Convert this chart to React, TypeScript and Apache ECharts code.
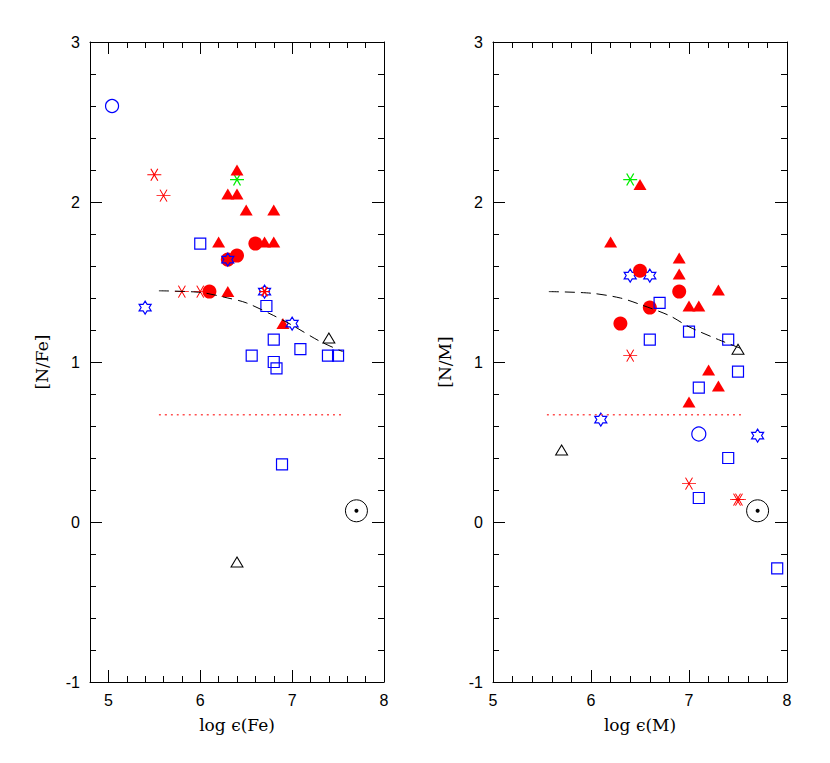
import React, { useEffect, useRef } from "react";
import * as echarts from "echarts";

// ---------- tick labels ----------
const majorXTicks = [5, 6, 7, 8];
const majorYTicks = [-1, 0, 1, 2, 3];

// ---------- left panel: [N/Fe] vs log eps(Fe) ----------
const feBlueOpenCircle = [[5.04, 2.6]];
const feRedAsterisk = [[5.5, 2.17], [5.6, 2.04], [5.8, 1.44], [6.0, 1.44]];
const feRedAsteriskTop = [[6.7, 1.44]];
const feGreenAsterisk = [[6.4, 2.14]];
const feRedTriangle = [
  [6.4, 2.2], [6.3, 2.05], [6.4, 2.05], [6.5, 1.95], [6.8, 1.95],
  [6.2, 1.75], [6.7, 1.75], [6.8, 1.75], [6.3, 1.44], [6.9, 1.24],
];
const feRedCircle = [[6.6, 1.74], [6.3, 1.64], [6.4, 1.665], [6.1, 1.44]];
const feBlueSquare = [
  [6.0, 1.74], [6.72, 1.35], [6.8, 1.14], [6.56, 1.04], [6.8, 1.0],
  [6.83, 0.96], [7.09, 1.08], [7.39, 1.04], [7.5, 1.04], [6.89, 0.36],
];
const feBlueStar = [[6.3, 1.64], [5.4, 1.34], [6.7, 1.44], [7.0, 1.24]];
const feBlackTriangle = [[7.4, 1.15], [6.4, -0.25]];
const feSun = [[7.7, 0.07]];
const feDashed = [
  [5.55, 1.445], [6.0, 1.435], [6.3, 1.4], [6.5, 1.37], [6.8, 1.29],
  [7.0, 1.23], [7.3, 1.13], [7.55, 1.065],
];
const feDotted = [[5.55, 0.67], [7.55, 0.67]];

// ---------- right panel: [N/M] vs log eps(M) ----------
const mGreenAsterisk = [[6.4, 2.14]];
const mRedTriangle = [
  [6.5, 2.11], [6.2, 1.75], [6.9, 1.65], [6.9, 1.55], [7.3, 1.45],
  [7.0, 1.35], [7.1, 1.35], [7.2, 0.95], [7.3, 0.85], [7.0, 0.75],
];
const mRedCircle = [[6.5, 1.57], [6.9, 1.44], [6.6, 1.34], [6.3, 1.24]];
const mBlueStar = [[6.4, 1.54], [6.6, 1.54], [6.1, 0.64], [7.7, 0.54]];
const mBlueSquare = [
  [6.7, 1.37], [6.6, 1.14], [7.0, 1.19], [7.4, 1.14], [7.5, 0.94],
  [7.1, 0.84], [7.4, 0.4], [7.1, 0.15], [7.9, -0.29],
];
const mBlackTriangle = [[7.5, 1.08], [5.7, 0.45]];
const mRedAsterisk = [[6.4, 1.04], [7.0, 0.24], [7.49, 0.14], [7.51, 0.14]];
const mBlueOpenCircle = [[7.1, 0.55]];
const mSun = [[7.7, 0.07]];
const mDashed = [
  [5.57, 1.44], [6.0, 1.43], [6.3, 1.4], [6.5, 1.36], [6.8, 1.29],
  [7.0, 1.22], [7.3, 1.14], [7.55, 1.08],
];
const mDotted = [[5.55, 0.67], [7.55, 0.67]];

const RED = "#ff0000";
const BLUE = "#0000ff";
const GREEN = "#00ee00";
const NONE = "rgba(0,0,0,0)";

const ASTERISK = "path://M0,0.866L2,0.866M0.5,0L1.5,1.732M0.5,1.732L1.5,0";
const STAR =
  "path://M0,-1L0.2887,-0.5L0.866,-0.5L0.577,0L0.866,0.5L0.2887,0.5L0,1L-0.2887,0.5L-0.866,0.5L-0.577,0L-0.866,-0.5L-0.2887,-0.5Z";

function minorList(min: number, max: number, majors: number[]) {
  const out: number[] = [];
  for (let i = Math.round(min * 5); i <= Math.round(max * 5); i++) {
    const v = i / 5;
    if (!majors.some((m) => Math.abs(m - v) < 1e-6)) out.push(v);
  }
  return out;
}

const labelFont = { fontFamily: "Liberation Sans", fontSize: 16, color: "#000" };
const nameFont = { fontFamily: "DejaVu Serif", fontSize: 17, color: "#000" };

function makeAxes(
  dim: "x" | "y",
  gridIndex: number,
  min: number,
  max: number,
  majors: number[],
  name: string
) {
  const minors = minorList(min, max, majors);
  const posMain = dim === "x" ? "bottom" : "left";
  const posOpp = dim === "x" ? "top" : "right";
  const base = {
    type: "value",
    gridIndex,
    min,
    max,
    splitLine: { show: false },
  };
  const line = { show: true, onZero: false, lineStyle: { color: "#000", width: 1 } };
  const noLine = { show: false, onZero: false };
  return [
    {
      ...base,
      position: posMain,
      axisLine: line,
      axisTick: { show: true, inside: true, length: 12, customValues: majors, lineStyle: { color: "#000" } },
      axisLabel: { show: true, customValues: majors, margin: 10, ...labelFont },
      name,
      nameLocation: "middle",
      nameGap: dim === "x" ? 34 : 40,
      nameTextStyle: nameFont,
    },
    {
      ...base,
      position: posMain,
      axisLine: noLine,
      axisTick: { show: true, inside: true, length: 6, customValues: minors, lineStyle: { color: "#000" } },
      axisLabel: { show: false },
    },
    {
      ...base,
      position: posOpp,
      axisLine: line,
      axisTick: { show: true, inside: true, length: 12, customValues: majors, lineStyle: { color: "#000" } },
      axisLabel: { show: false },
    },
    {
      ...base,
      position: posOpp,
      axisLine: noLine,
      axisTick: { show: true, inside: true, length: 6, customValues: minors, lineStyle: { color: "#000" } },
      axisLabel: { show: false },
    },
  ];
}

function sc(data: number[][], ax: number, symbol: string, size: any, fill: string, stroke: string, bw = 1) {
  return {
    type: "scatter",
    xAxisIndex: ax,
    yAxisIndex: ax,
    data,
    symbol,
    symbolSize: size,
    itemStyle: { color: fill, borderColor: stroke, borderWidth: bw, opacity: 1 },
    emphasis: { disabled: true },
    silent: true,
  };
}

function ln(data: number[][], ax: number, color: string, type: any, width = 1) {
  return {
    type: "line",
    xAxisIndex: ax,
    yAxisIndex: ax,
    data,
    showSymbol: false,
    symbol: "none",
    smooth: 0.3,
    lineStyle: { color, type, width },
    silent: true,
  };
}

export default function App() {
  const ref = useRef<HTMLDivElement>(null);
  useEffect(() => {
    if (!ref.current) return;
    const chart = echarts.init(ref.current, undefined, { renderer: "svg" });
    const L = 0;
    const R = 4;
    const option: any = {
      animation: false,
      backgroundColor: "#fff",
      grid: [
        { left: 90, top: 42, width: 294, height: 640 },
        { left: 493, top: 42, width: 294, height: 640 },
      ],
      xAxis: [
        ...makeAxes("x", 0, 4.8, 8, majorXTicks, "log \u03f5(Fe)"),
        ...makeAxes("x", 1, 5, 8, majorXTicks, "log \u03f5(M)"),
      ],
      yAxis: [
        ...makeAxes("y", 0, -1, 3, majorYTicks, "[N/Fe]"),
        ...makeAxes("y", 1, -1, 3, majorYTicks, "[N/M]"),
      ],
      series: [
        // left panel
        ln(feDashed, L, "#000", [10, 6], 1),
        ln(feDotted, L, "#ff5050", [2, 4], 1.5),
        sc(feBlueOpenCircle, L, "circle", 13, NONE, BLUE, 1.2),
        sc(feRedAsterisk, L, ASTERISK, [14, 12], RED, RED, 1),
        sc(feGreenAsterisk, L, ASTERISK, [14, 12], GREEN, GREEN, 1.2),
        sc(feRedTriangle, L, "triangle", [13, 11], RED, RED, 0),
        sc(feRedCircle, L, "circle", 14, RED, RED, 0),
        sc(feBlueSquare, L, "rect", 11, NONE, BLUE, 1.2),
        sc(feBlueStar, L, STAR, [12, 13], NONE, BLUE, 1.2),
        sc(feRedAsteriskTop, L, ASTERISK, [11, 9.5], RED, RED, 1.5),
        sc(feBlackTriangle, L, "triangle", [12, 10], NONE, "#000", 1),
        sc(feSun, L, "circle", 22, NONE, "#000", 1),
        sc(feSun, L, "circle", 4, "#000", "#000", 0),
        // right panel
        ln(mDashed, R, "#000", [10, 6], 1),
        ln(mDotted, R, "#ff5050", [2, 4], 1.5),
        sc(mGreenAsterisk, R, ASTERISK, [14, 12], GREEN, GREEN, 1.2),
        sc(mRedTriangle, R, "triangle", [13, 11], RED, RED, 0),
        sc(mBlueStar, R, STAR, [12, 13], NONE, BLUE, 1.2),
        sc(mRedCircle, R, "circle", 14, RED, RED, 0),
        sc(mBlueSquare, R, "rect", 11, NONE, BLUE, 1.2),
        sc(mBlackTriangle, R, "triangle", [12, 10], NONE, "#000", 1),
        sc(mRedAsterisk, R, ASTERISK, [14, 12], RED, RED, 1),
        sc(mBlueOpenCircle, R, "circle", 14, NONE, BLUE, 1.2),
        sc(mSun, R, "circle", 22, NONE, "#000", 1),
        sc(mSun, R, "circle", 4, "#000", "#000", 0),
      ],
    };
    chart.setOption(option);
    return () => chart.dispose();
  }, []);
  return (
    <div
      ref={ref}
      style={{ position: "absolute", left: 0, top: 0, width: 830, height: 763 }}
    />
  );
}
